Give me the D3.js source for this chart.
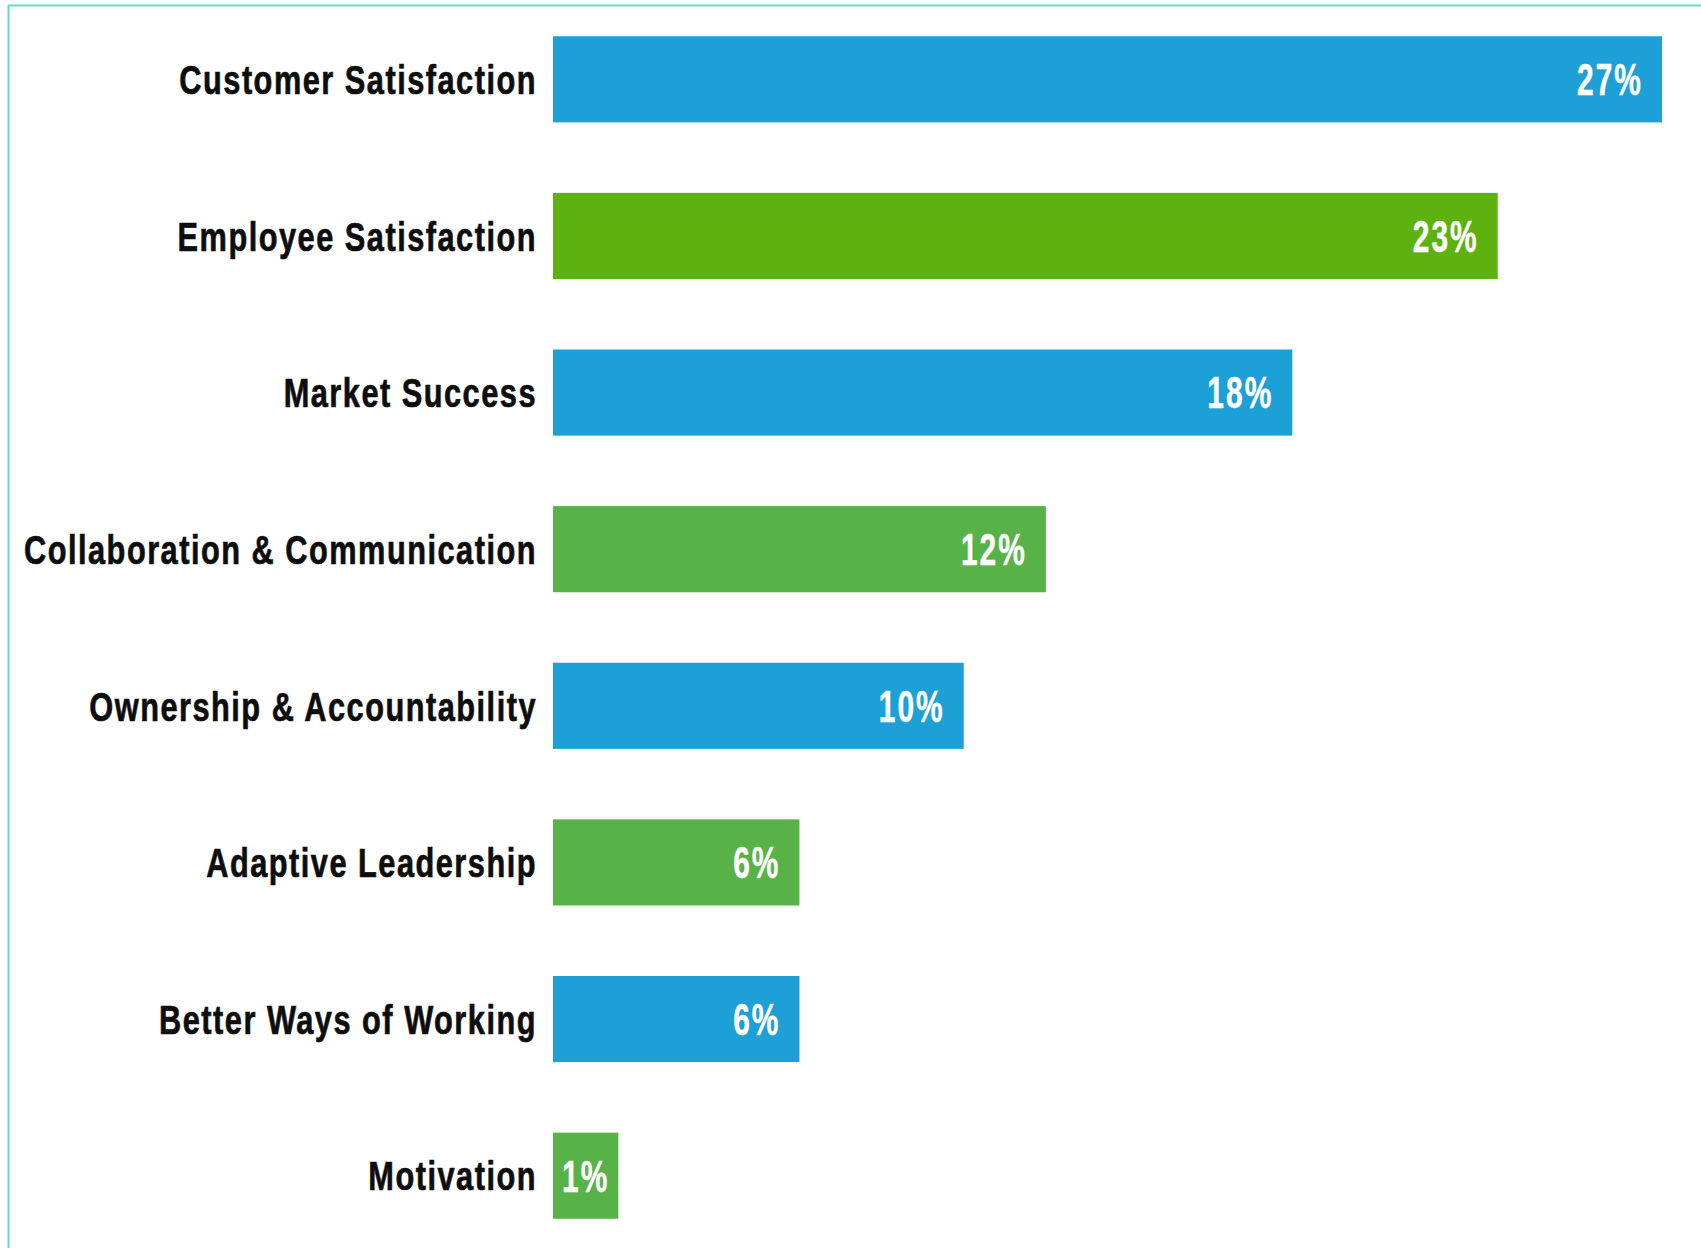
<!DOCTYPE html>
<html>
<head>
<meta charset="utf-8">
<script src="https://cdn.jsdelivr.net/npm/d3@7"></script>
<style>
  html, body { margin: 0; padding: 0; background: #ffffff; }
  svg { display: block; }
  .cat { font-family: "Liberation Sans", Arial, sans-serif; font-weight: 700; fill: #0d0d0d; stroke: #0d0d0d; stroke-width: 0.7px; }
  .val { font-family: "Liberation Sans", Arial, sans-serif; font-weight: 700; fill: #ffffff; stroke: #ffffff; stroke-width: 0.5px; }
</style>
</head>
<body>
<svg id="chart" width="1701" height="1248"></svg>
<script>
// Survey results: share of responses per outcome area
const categories = [
  "Customer Satisfaction",
  "Employee Satisfaction",
  "Market Success",
  "Collaboration & Communication",
  "Ownership & Accountability",
  "Adaptive Leadership",
  "Better Ways of Working",
  "Motivation"
];
const values = [27, 23, 18, 12, 10, 6, 6, 1];
const valueLabels = ["27%", "23%", "18%", "12%", "10%", "6%", "6%", "1%"];
const barColors = ["#1ca0d6", "#5db20f", "#1ca0d6", "#57b247", "#1ca0d6", "#57b247", "#1ca0d6", "#57b247"];

const width = 1701, height = 1248;
const squeeze = 0.75;     // horizontal condensing of the bold sans face
const valSqueeze = 0.68;
const svg = d3.select("#chart");

// frame lines along the top and left edges
svg.append("line").attr("x1", 8).attr("y1", 5.5).attr("x2", width).attr("y2", 5.5)
  .attr("stroke", "#62dcc6").attr("stroke-width", 2);
svg.append("line").attr("x1", 8.5).attr("y1", 5).attr("x2", 8.5).attr("y2", height)
  .attr("stroke", "#62dcc6").attr("stroke-width", 2);

const x = d3.scaleLinear().domain([0, 27]).range([553, 1662]);
const y = d3.scaleBand().domain(categories).range([1, 1254]).paddingInner(0.45).paddingOuter(0.225);

const rows = svg.append("g").selectAll("g")
  .data(categories.map((c, i) => ({ c, v: values[i], label: valueLabels[i], color: barColors[i] })))
  .join("g");

// category names, right-aligned against the bars
rows.append("text")
  .attr("class", "cat")
  .attr("transform", d => `translate(537,${y(d.c) + y.bandwidth() / 2}) scale(${squeeze},1)`)
  .attr("dy", "0.36em")
  .attr("text-anchor", "end")
  .attr("font-size", 41)
  .attr("letter-spacing", 2)
  .text(d => d.c);

// value labels measured first so short bars still hold their label
const valText = rows.append("text")
  .attr("class", "val")
  .attr("font-size", 44)
  .attr("letter-spacing", 3)
  .attr("text-anchor", "end")
  .attr("dy", "0.36em")
  .text(d => d.label);

valText.each(function (d) {
  d.tw = this.getComputedTextLength() * valSqueeze;
  d.w = Math.max(x(d.v) - x(0), d.tw + 18);
  d.pad = Math.min(19, (d.w - d.tw) / 2);
});

rows.insert("rect", ".val")
  .attr("x", x(0))
  .attr("y", d => y(d.c))
  .attr("width", d => d.w)
  .attr("height", y.bandwidth())
  .attr("fill", d => d.color);

valText.attr("transform", d =>
  `translate(${x(0) + d.w - d.pad},${y(d.c) + y.bandwidth() / 2}) scale(${valSqueeze},1)`);
</script>
</body>
</html>
